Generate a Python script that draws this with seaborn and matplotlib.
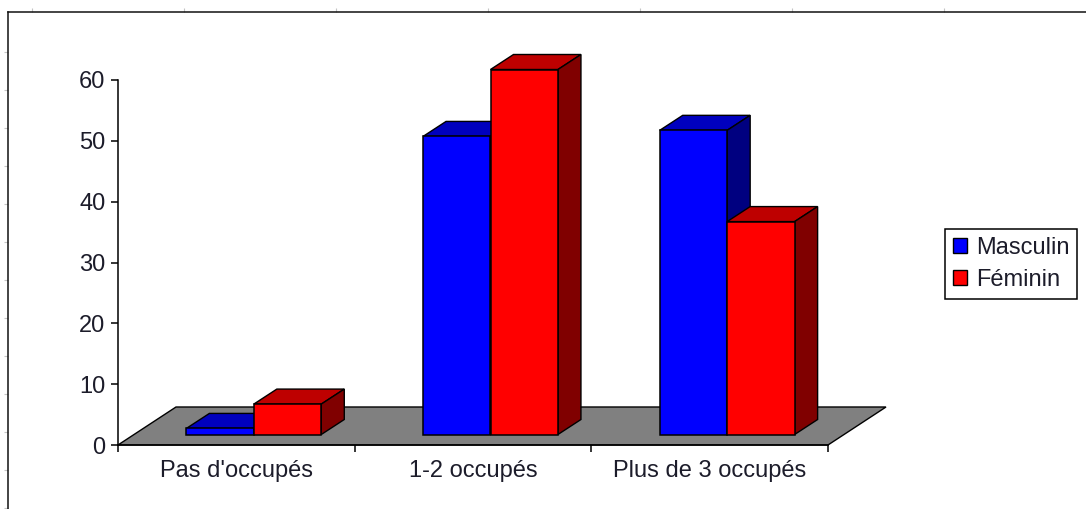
import matplotlib
matplotlib.use("Agg")
import matplotlib.pyplot as plt
from matplotlib.patches import Polygon, Patch
import pandas as pd
import seaborn as sns

categories = ["Pas d'occupés", "1-2 occupés", "Plus de 3 occupés"]
masculin = [1, 49, 50]
feminin = [5, 60, 35]
series_names = ["Masculin", "Féminin"]
yticks = [0, 10, 20, 30, 40, 50, 60]

W, H = 1086, 509
DPI = 100
TXT = "#1c1c2a"
sns.set_theme(style="white", rc={"font.family": ["Liberation Sans", "DejaVu Sans"]})

fig = plt.figure(figsize=(W / DPI, H / DPI), dpi=DPI, facecolor="white")

def rect(x0, y0, x1, y1):
    return [x0 / W, 1 - y1 / H, (x1 - x0) / W, (y1 - y0) / H]

# outer frame: runs off the picture on the right and at the bottom
bg = fig.add_axes(rect(8, 12, 1094, 520))
bg.set_xlim(8, 1094)
bg.set_ylim(520, 12)
for s in ("right", "bottom"):
    bg.spines[s].set_visible(False)
for s in ("left", "top"):
    bg.spines[s].set_linewidth(1.1)
    bg.spines[s].set_color("#111111")
bg.xaxis.tick_top()
bg.set_xticks(range(32, 1086, 152))
bg.set_yticks(range(52, 509, 38))
bg.tick_params(length=3, width=0.8, color="#c4c4c4", labelleft=False, labeltop=False,
               left=True, top=True, bottom=False, right=False)

df = pd.DataFrame({
    "cat": categories * 2,
    "val": masculin + feminin,
    "sex": [series_names[0]] * 3 + [series_names[1]] * 3,
})

ax = fig.add_axes(rect(118, 80, 828, 445))
ax.patch.set_alpha(0)
front = {series_names[0]: "#0000FF", series_names[1]: "#FF0000"}
top = {series_names[0]: "#0000BE", series_names[1]: "#BE0000"}
side = {series_names[0]: "#000080", series_names[1]: "#800000"}
sns.barplot(data=df, x="cat", y="val", hue="sex", hue_order=series_names, palette=front,
            width=0.57, gap=0, saturation=1, legend=False, ax=ax,
            edgecolor="black", linewidth=1.1, errorbar=None)
ax.set_xlim(-0.5, 2.5)
ax.set_ylim(0, 60)
ax.set_xlabel("")
ax.set_ylabel("")

px_x = 710 / 3       # pixels per category
px_y = 365 / 60      # pixels per value unit
floor_dx, floor_dy = 58 / px_x, 38 / px_y
base_dx, base_dy = 17.5 / px_x, 10.5 / px_y
depth_dx, depth_dy = 23 / px_x, 15 / px_y

# floor
bars = list(ax.patches)
ax.add_patch(Polygon([(-0.5, 0), (-0.5 + floor_dx, floor_dy), (2.5 + floor_dx, floor_dy), (2.5, 0)],
                     closed=True, facecolor="#808080", edgecolor="black", lw=1.0,
                     clip_on=False, zorder=1))

names = [series_names[0]] * 3 + [series_names[1]] * 3
z = 3
for i in [0, 3, 1, 4, 2, 5]:
    b, n = bars[i], names[i]
    b.set_x(b.get_x() + base_dx)
    b.set_y(base_dy)
    b.set_clip_on(False)
    x0, x1 = b.get_x(), b.get_x() + b.get_width()
    y0, y1 = base_dy, base_dy + b.get_height()
    ax.add_patch(Polygon([(x0, y1), (x0 + depth_dx, y1 + depth_dy), (x1 + depth_dx, y1 + depth_dy), (x1, y1)],
                         closed=True, facecolor=top[n], edgecolor="black", lw=1.0, clip_on=False, zorder=z))
    ax.add_patch(Polygon([(x1, y0), (x1 + depth_dx, y0 + depth_dy), (x1 + depth_dx, y1 + depth_dy), (x1, y1)],
                         closed=True, facecolor=side[n], edgecolor="black", lw=1.0, clip_on=False, zorder=z))
    b.set_zorder(z + 1)
    z += 2

for s in ("top", "right"):
    ax.spines[s].set_visible(False)
for s in ("left", "bottom"):
    ax.spines[s].set_linewidth(1.1)
    ax.spines[s].set_color("black")
    ax.spines[s].set_zorder(2)

ax.set_yticks(yticks)
ax.tick_params(axis="y", left=True, length=5, width=1.1, color="black", labelsize=17,
               labelcolor=TXT, pad=4)
ax.set_xticks([0, 1, 2])
ax.set_xticklabels(categories)
ax.set_xticks([-0.5, 0.5, 1.5, 2.5], minor=True)
ax.tick_params(axis="x", which="major", bottom=False, labelsize=17, labelcolor=TXT, pad=5)
ax.tick_params(axis="x", which="minor", bottom=True, length=5, width=1.1, color="black")

handles = [Patch(facecolor=front[n], edgecolor="black", linewidth=1.0) for n in series_names]
leg = fig.legend(handles, series_names, loc="upper left",
                 bbox_to_anchor=(945 / W, 1 - 229 / H), bbox_transform=fig.transFigure,
                 fancybox=False, framealpha=1, edgecolor="black", fontsize=17,
                 handlelength=0.6, handleheight=0.6, handletextpad=0.36,
                 borderpad=0.34, borderaxespad=0, labelspacing=0.42, labelcolor=TXT)
leg.get_frame().set_linewidth(1.1)

fig.savefig("out.png", dpi=DPI, facecolor="white")
